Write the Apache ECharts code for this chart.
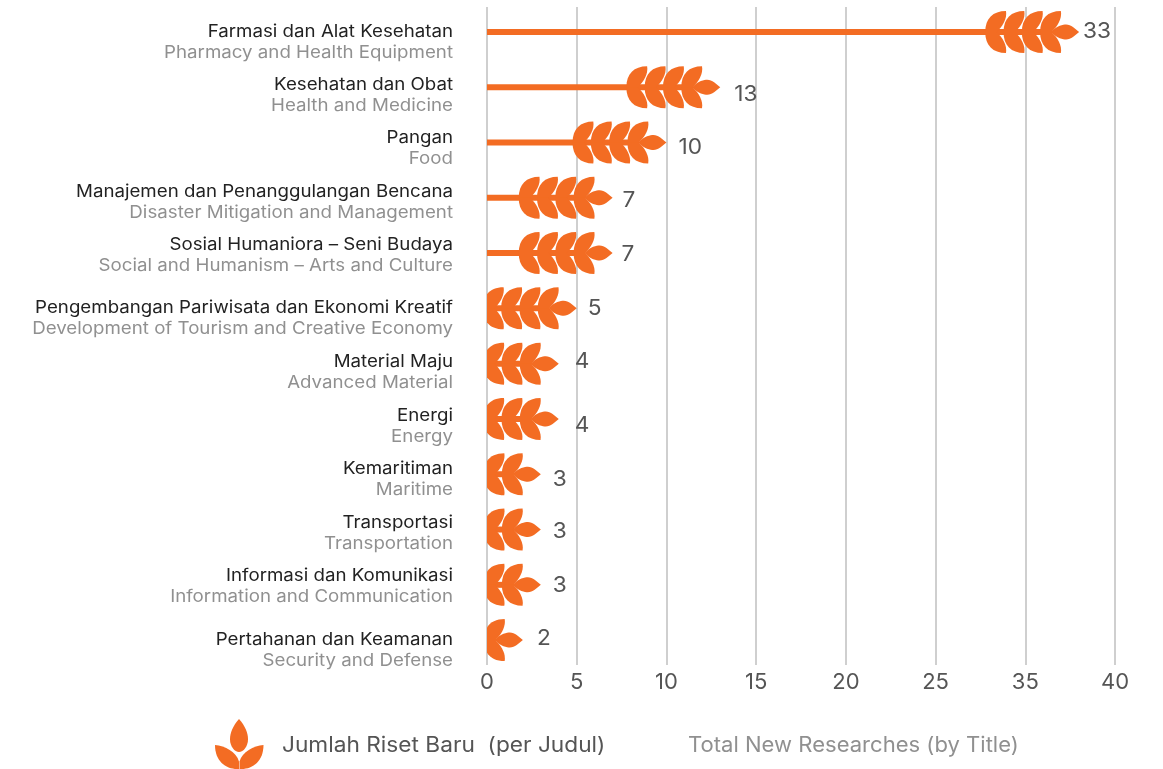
<!DOCTYPE html>
<html>
<head>
<meta charset="utf-8">
<style>html,body{margin:0;padding:0;background:#fff}#main{width:1163px;height:769px}</style>
<script src="https://cdn.jsdelivr.net/npm/echarts@6/dist/echarts.min.js"></script>
</head>
<body>
<div id="main"></div>
<script>
var namesId = ['Farmasi dan Alat Kesehatan','Kesehatan dan Obat','Pangan','Manajemen dan Penanggulangan Bencana','Sosial Humaniora – Seni Budaya','Pengembangan Pariwisata dan Ekonomi Kreatif','Material Maju','Energi','Kemaritiman','Transportasi','Informasi dan Komunikasi','Pertahanan dan Keamanan'];
var namesEn = ['Pharmacy and Health Equipment','Health and Medicine','Food','Disaster Mitigation and Management','Social and Humanism – Arts and Culture','Development of Tourism and Creative Economy','Advanced Material','Energy','Maritime','Transportation','Information and Communication','Security and Defense'];
var researchCount = [33,13,10,7,7,5,4,4,3,3,3,2];
// the source skips 30 on its axis
var tickLabels = ['0','5','10','15','20','25','35','40'];

// the labels in the source do not sit exactly on the rows
var nameNudge = [10.5,8,6.4,4.6,2.3,10.5,9.2,7.5,5,3.8,1.5,10.2];
var valueNudgeY = [0,8,5.4,3,2,0.5,-2,7,5,2,1,-1];
var valueNudgeX = [-5,5,3,1,0,2,7,7,3,3,3,5];

var FONT = 'Inter';
var ORANGE = '#f36c23';
var LEAF = 'M60 0C22 0 0 22 0 62L33 62C50 46 64 22 60 0Z';
var TIP = 'M0 7C6 1 12 0 15 0C20 0 24 4 28 7C24 10 20 14 15 14C12 14 6 13 0 7Z';
var ICON_MID = 'M27 0C45 20 54 40 54 60C54 80 40 97 27 97C14 97 0 80 0 60C0 40 9 20 27 0Z';
var ICON_SIDE = 'M0 0C30 3 65 20 73 50L73 72C35 75 0 50 0 0Z';

function leaf(x, y, dir) {
    return {
        type: 'path', x: x, y: y, scaleY: dir,
        shape: {pathData: LEAF, layout: 'cover', x: -20, y: -21, width: 21, height: 21},
        style: {fill: ORANGE}
    };
}

function renderHead(params, api) {
    var v = api.value(0), row = api.value(1);
    var end = api.coord([v, row]), start = api.coord([0, row]);
    var kids = [{
        type: 'rect',
        shape: {x: start[0], y: end[1] - 3, width: end[0] - 27 - start[0], height: 6},
        style: {fill: ORANGE}
    }, {
        type: 'path', shape: {pathData: TIP, layout: 'cover', x: end[0] - 28, y: end[1] - 7.5, width: 28, height: 15},
        style: {fill: ORANGE}
    }];
    var pairs = Math.min(4, v - 1);
    for (var i = 0; i < pairs; i++) {
        var x = end[0] - 19 - i * 18.3;
        kids.push(leaf(x, end[1], 1), leaf(x, end[1], -1));
    }
    return {type: 'group', children: kids};
}

function renderText(params, api) {
    var v = api.value(0), row = api.value(1);
    var end = api.coord([v, row]), start = api.coord([0, row]);
    var cy = start[1] + nameNudge[row];
    return {type: 'group', children: [{
        type: 'text', x: start[0] - 34, y: cy - 10.5, scaleX: 1.1,
        style: {text: namesId[row], align: 'right', verticalAlign: 'middle', fontFamily: FONT, fontSize: 17, fill: '#222'}
    }, {
        type: 'text', x: start[0] - 34, y: cy + 10.5, scaleX: 1.1,
        style: {text: namesEn[row], align: 'right', verticalAlign: 'middle', fontFamily: FONT, fontSize: 17, fill: '#909090'}
    }, {
        type: 'text', x: end[0] + 9 + valueNudgeX[row], y: end[1] + valueNudgeY[row], scaleX: 1.08,
        style: {text: String(v), align: 'left', verticalAlign: 'middle', fontFamily: FONT, fontSize: 21, fill: '#555'}
    }]};
}

function renderIcon() {
    return {type: 'group', children: [
        {type: 'path', shape: {pathData: ICON_MID, layout: 'cover', x: 230, y: 719, width: 18, height: 33}, style: {fill: ORANGE}},
        {type: 'path', shape: {pathData: ICON_SIDE, layout: 'cover', x: 215, y: 745, width: 24, height: 24}, style: {fill: ORANGE}},
        {type: 'path', x: 263.5, y: 745, scaleX: -1, shape: {pathData: ICON_SIDE, layout: 'cover', x: 0, y: 0, width: 24, height: 24}, style: {fill: ORANGE}}
    ]};
}

var chart = echarts.init(document.getElementById('main'));
var rows = researchCount.map(function (v, i) { return [v, i]; });

chart.setOption({
    animation: false,
    grid: {left: 487, right: 48, top: 7, height: 658},
    xAxis: {
        type: 'value', min: 0, max: 35, interval: 5,
        axisLine: {show: false}, axisTick: {show: false},
        splitLine: {show: true, lineStyle: {color: '#cfcfcf', width: 2}},
        axisLabel: {
            margin: 6, fontFamily: FONT, fontSize: 22, color: '#555',
            formatter: function (v) { return tickLabels[v / 5]; }
        }
    },
    yAxis: {type: 'value', inverse: true, min: -0.45, max: 11.45, show: false},
    series: [
        {type: 'custom', clip: true, data: rows, renderItem: renderHead, silent: true},
        {type: 'custom', clip: false, data: rows, renderItem: renderText, silent: true},
        {type: 'custom', clip: false, data: [[0, 0]], renderItem: renderIcon, silent: true}
    ],
    graphic: [
        {type: 'text', x: 282, y: 746, scaleX: 1.08, style: {text: 'Jumlah Riset Baru  (per Judul)', verticalAlign: 'middle', fontFamily: FONT, fontSize: 21, fill: '#555'}},
        {type: 'text', x: 688, y: 746, scaleX: 1.05, style: {text: 'Total New Researches (by Title)', verticalAlign: 'middle', fontFamily: FONT, fontSize: 21, fill: '#909090'}}
    ]
});
</script>
</body>
</html>
